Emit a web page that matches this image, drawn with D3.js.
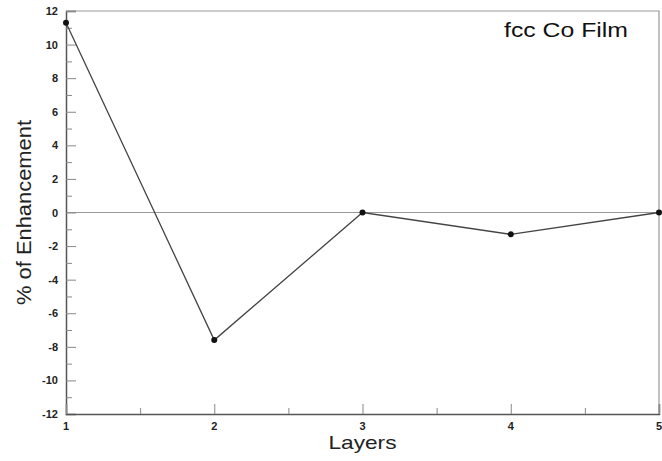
<!DOCTYPE html>
<html>
<head>
<meta charset="utf-8">
<script src="https://cdn.jsdelivr.net/npm/d3@7"></script>
<style>
  html, body { margin: 0; padding: 0; background: #fff; }
  svg { display: block; font-family: "Liberation Sans", Arial, sans-serif; }
</style>
</head>
<body>
<svg id="chart" width="662" height="461"></svg>
<script>
// Enhancement per layer of an fcc Co film
const layers = [1, 2, 3, 4, 5];
const enhancement = [11.3, -7.6, 0, -1.3, 0];
const yTicks = [-12, -10, -8, -6, -4, -2, 0, 2, 4, 6, 8, 10, 12];
const xTicks = [1, 2, 3, 4, 5];

const svg = d3.select("#chart");
const m = { left: 66, right: 659, top: 11, bottom: 414 };

const x = d3.scaleLinear().domain([1, 5]).range([m.left, m.right]);
const y = d3.scaleLinear().domain([-12, 12]).range([m.bottom, m.top]);

// frame: top and right edges in light grey
svg.append("path")
  .attr("d", `M${m.left},${m.top}H${m.right}V${m.bottom}`)
  .attr("fill", "none").attr("stroke", "#999").attr("stroke-width", 1.2);

// zero reference line
svg.append("line")
  .attr("x1", m.left).attr("x2", m.right)
  .attr("y1", y(0)).attr("y2", y(0))
  .attr("stroke", "#999").attr("stroke-width", 1.2);

// y axis with inward ticks
const yAxis = d3.axisRight(y).tickValues(yTicks).tickSize(10).tickFormat("");
const gy = svg.append("g").attr("transform", `translate(${m.left},0)`).call(yAxis);
gy.select(".domain").attr("stroke", "#555").attr("stroke-width", 1.5);
gy.selectAll(".tick line").attr("stroke", "#888");
const yMinor = d3.axisRight(y).tickValues(d3.range(-11, 12, 2)).tickSize(6).tickFormat("");
const gym = svg.append("g").attr("transform", `translate(${m.left},0)`).call(yMinor);
gym.select(".domain").remove();
gym.selectAll(".tick line").attr("stroke", "#888");

svg.append("g").selectAll("text").data(yTicks).join("text")
  .attr("x", m.left - 8).attr("y", d => y(d) + 4)
  .attr("text-anchor", "end")
  .attr("font-size", 11).attr("font-weight", "bold").attr("fill", "#222")
  .text(d => d);

// x axis with inward ticks
const xAxis = d3.axisTop(x).tickValues(xTicks).tickSize(10).tickFormat("");
const gx = svg.append("g").attr("transform", `translate(0,${m.bottom})`).call(xAxis);
gx.select(".domain").attr("stroke", "#555").attr("stroke-width", 1.5);
gx.selectAll(".tick line").attr("stroke", "#888");
const xMinor = d3.axisTop(x).tickValues([1.5, 2.5, 3.5, 4.5]).tickSize(6).tickFormat("");
const gxm = svg.append("g").attr("transform", `translate(0,${m.bottom})`).call(xMinor);
gxm.select(".domain").remove();
gxm.selectAll(".tick line").attr("stroke", "#888");

svg.append("g").selectAll("text").data(xTicks).join("text")
  .attr("x", d => x(d)).attr("y", m.bottom + 16)
  .attr("text-anchor", "middle")
  .attr("font-size", 11).attr("font-weight", "bold").attr("fill", "#222")
  .text(d => d);

// data line and markers
const pts = layers.map((l, i) => [l, enhancement[i]]);
svg.append("path")
  .datum(pts)
  .attr("d", d3.line().x(d => x(d[0])).y(d => y(d[1])))
  .attr("fill", "none").attr("stroke", "#444").attr("stroke-width", 1.3);
svg.append("g").selectAll("circle").data(pts).join("circle")
  .attr("cx", d => x(d[0])).attr("cy", d => y(d[1]))
  .attr("r", 3).attr("fill", "#111");

// labels
svg.append("text")
  .attr("x", x(3)).attr("y", 449)
  .attr("text-anchor", "middle").attr("font-size", 19).attr("fill", "#222")
  .attr("textLength", 68).attr("lengthAdjust", "spacingAndGlyphs")
  .text("Layers");
svg.append("text")
  .attr("transform", `translate(31,${y(0)}) rotate(-90)`)
  .attr("text-anchor", "middle").attr("font-size", 20).attr("fill", "#222")
  .attr("textLength", 185).attr("lengthAdjust", "spacingAndGlyphs")
  .text("% of Enhancement");
svg.append("text")
  .attr("x", 566).attr("y", 37)
  .attr("text-anchor", "middle").attr("font-size", 20).attr("fill", "#111")
  .attr("textLength", 124).attr("lengthAdjust", "spacingAndGlyphs")
  .text("fcc Co Film");
</script>
</body>
</html>
